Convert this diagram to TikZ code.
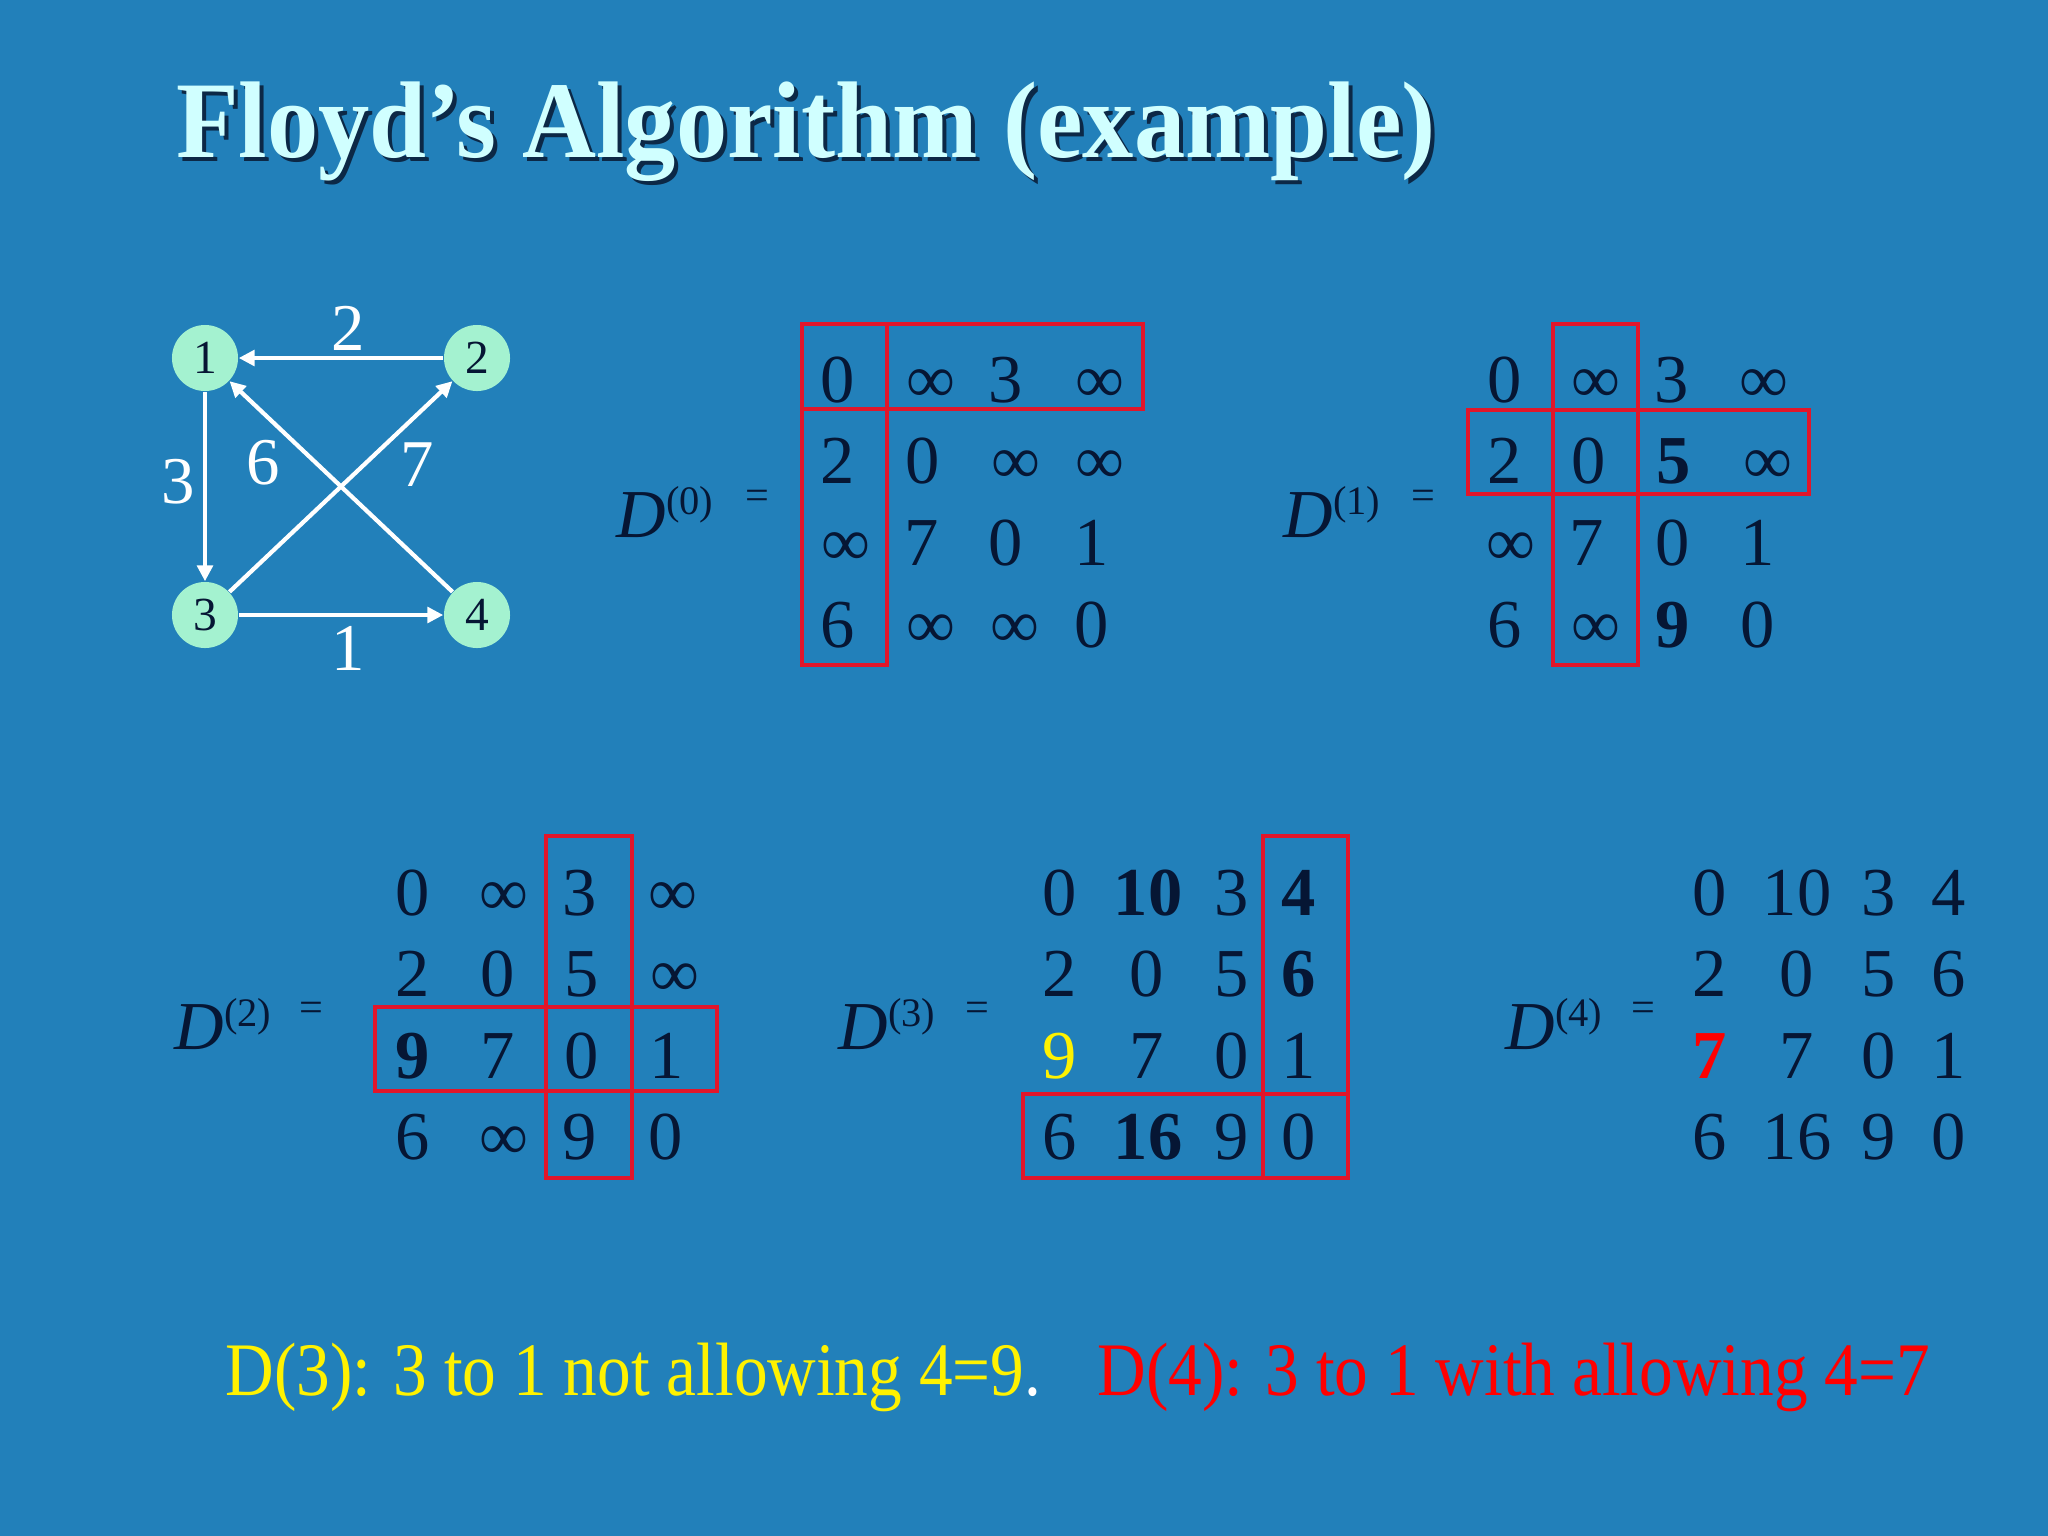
\documentclass[tikz,border=0pt]{standalone}
\usepackage{fontspec}
\setmainfont{Liberation Serif}
\usetikzlibrary{arrows.meta}
\definecolor{azulfondo}{RGB}{34,128,186}
\definecolor{tinta}{RGB}{6,22,52}
\definecolor{menta}{RGB}{164,242,208}
\definecolor{rojocaja}{RGB}{226,22,42}
\definecolor{cian}{RGB}{208,255,255}
\definecolor{sombra}{RGB}{12,40,70}
\newcommand{\sups}[1]{\raisebox{6.3pt}{\fontsize{11.5pt}{12pt}\selectfont#1}}

\begin{document}
\begin{tikzpicture}[x=0.01cm,y=-0.01cm,
    ent/.style={anchor=base,inner sep=0pt,text=tinta,font=\fontsize{19.5pt}{20pt}\selectfont},
    dlab/.style={anchor=base west,inner sep=0pt,text=tinta,font=\fontsize{19.5pt}{20pt}\selectfont},
    igual/.style={inner sep=0pt,text=tinta,font=\fontsize{12pt}{12pt}\selectfont},
    vert/.style={circle,fill=menta,minimum size=0.66cm,inner sep=0pt,text=tinta,font=\fontsize{13.5pt}{14pt}\selectfont},
    peso/.style={inner sep=0pt,text=white,font=\fontsize{19pt}{20pt}\selectfont},
    arista/.style={white,line width=1.2pt,-{Triangle[length=4.5pt,width=4.4pt]}},
    caja/.style={rojocaja,line width=0.9pt},
    nota/.style={anchor=base west,inner sep=0pt,xscale=0.89,font=\fontsize{21.5pt}{22pt}\selectfont}]
  \fill[azulfondo] (0,0) rectangle (2048,1536);

  % title
  \node[anchor=base,text=sombra,font=\fontsize{31pt}{32pt}\bfseries,xscale=0.94] (titsombra) at (810,161) {Floyd’s Algorithm (example)};
  \node[anchor=base,text=cian,font=\fontsize{31pt}{32pt}\bfseries,xscale=0.94] (titulo) at (806,157) {Floyd’s Algorithm (example)};

  % graph
  \node[vert] (n1) at (205,358) {1};
  \node[vert] (n2) at (477,358) {2};
  \node[vert] (n3) at (205,615) {3};
  \node[vert] (n4) at (477,615) {4};
  \draw[arista] (n2) -- (n1);
  \draw[arista] (n1) -- (n3);
  \draw[arista] (n3) -- (n4);
  \draw[arista] (n4) -- (n1);
  \draw[arista] (n3) -- (n2);
  \node[peso] (p21) at (348,328) {2};
  \node[peso] (p13) at (178,482) {3};
  \node[peso] (p41) at (263,463) {6};
  \node[peso] (p32) at (417,465) {7};
  \node[peso] (p34) at (348,648) {1};

  % D(0)
  \node[dlab] (d0) at (616,537) {\textit{D}\sups{(0)}};
  \node[igual] (i0) at (757,500) {=};
  \foreach \x/\t [count=\c] in {838/0,931/∞,1006/3,1100/∞}
    \node[ent] (a0-1-\c) at (\x,402) {\t};
  \foreach \x/\t [count=\c] in {838/2,923/0,1016/∞,1100/∞}
    \node[ent] (a0-2-\c) at (\x,483) {\t};
  \foreach \x/\t [count=\c] in {846/∞,922/7,1006/0,1092/1}
    \node[ent] (a0-3-\c) at (\x,565) {\t};
  \foreach \x/\t [count=\c] in {838/6,931/∞,1015/∞,1092/0}
    \node[ent] (a0-4-\c) at (\x,647) {\t};
  \draw[caja] (802,324) rectangle (887,665);
  \draw[caja] (802,324) rectangle (1143,409);

  % D(1)
  \node[dlab] (d1) at (1283,537) {\textit{D}\sups{(1)}};
  \node[igual] (i1) at (1423,500) {=};
  \foreach \x/\t [count=\c] in {1505/0,1596/∞,1672/3,1764/∞}
    \node[ent] (a1-1-\c) at (\x,402) {\t};
  \foreach \x/\t [count=\c] in {1505/2,1589/0,1674/\textbf{5},1768/∞}
    \node[ent] (a1-2-\c) at (\x,483) {\t};
  \foreach \x/\t [count=\c] in {1511/∞,1587/7,1673/0,1758/1}
    \node[ent] (a1-3-\c) at (\x,565) {\t};
  \foreach \x/\t [count=\c] in {1505/6,1596/∞,1673/\textbf{9},1758/0}
    \node[ent] (a1-4-\c) at (\x,647) {\t};
  \draw[caja] (1553,324) rectangle (1638,665);
  \draw[caja] (1468,410) rectangle (1809,494);

  % D(2)
  \node[dlab] (d2) at (174,1049) {\textit{D}\sups{(2)}};
  \node[igual] (i2) at (311,1012) {=};
  \foreach \x/\t [count=\c] in {413/0,504/∞,580/3,673/∞}
    \node[ent] (a2-1-\c) at (\x,915) {\t};
  \foreach \x/\t [count=\c] in {413/2,498/0,582/5,675/∞}
    \node[ent] (a2-2-\c) at (\x,996) {\t};
  \foreach \x/\t [count=\c] in {413/\textbf{9},498/7,582/0,667/1}
    \node[ent] (a2-3-\c) at (\x,1078) {\t};
  \foreach \x/\t [count=\c] in {413/6,504/∞,580/9,666/0}
    \node[ent] (a2-4-\c) at (\x,1159) {\t};
  \draw[caja] (546,836) rectangle (632,1178);
  \draw[caja] (375,1007) rectangle (717,1091);

  % D(3)
  \node[dlab] (d3) at (838,1049) {\textit{D}\sups{(3)}};
  \node[igual] (i3) at (977,1012) {=};
  \foreach \x/\t [count=\c] in {1060/0,1148/\textbf{10},1232/3,1299/\textbf{4}}
    \node[ent] (a3-1-\c) at (\x,915) {\t};
  \foreach \x/\t [count=\c] in {1060/2,1147/0,1232/5,1299/\textbf{6}}
    \node[ent] (a3-2-\c) at (\x,996) {\t};
  \foreach \x/\t [count=\c] in {1060/\textcolor{yellow}{9},1147/7,1232/0,1299/1}
    \node[ent] (a3-3-\c) at (\x,1078) {\t};
  \foreach \x/\t [count=\c] in {1060/6,1148/\textbf{16},1232/9,1299/0}
    \node[ent] (a3-4-\c) at (\x,1159) {\t};
  \draw[caja] (1263,836) rectangle (1348,1178);
  \draw[caja] (1023,1094) rectangle (1348,1178);

  % D(4)
  \node[dlab] (d4) at (1505,1049) {\textit{D}\sups{(4)}};
  \node[igual] (i4) at (1643,1012) {=};
  \foreach \x/\t [count=\c] in {1710/0,1797/10,1879/3,1949/4}
    \node[ent] (a4-1-\c) at (\x,915) {\t};
  \foreach \x/\t [count=\c] in {1710/2,1797/0,1879/5,1949/6}
    \node[ent] (a4-2-\c) at (\x,996) {\t};
  \foreach \x/\t [count=\c] in {1710/\textcolor{red}{\textbf{7}},1797/7,1879/0,1949/1}
    \node[ent] (a4-3-\c) at (\x,1078) {\t};
  \foreach \x/\t [count=\c] in {1710/6,1797/16,1879/9,1949/0}
    \node[ent] (a4-4-\c) at (\x,1159) {\t};

  % bottom note
  \node[nota,text=yellow] (nota3) at (225,1395) {D(3): 3 to 1 not allowing 4=9\textcolor{white}{.}};
  \node[nota,text=red] (nota4) at (1097,1395) {D(4): 3 to 1 with allowing 4=7};
\end{tikzpicture}
\end{document}
